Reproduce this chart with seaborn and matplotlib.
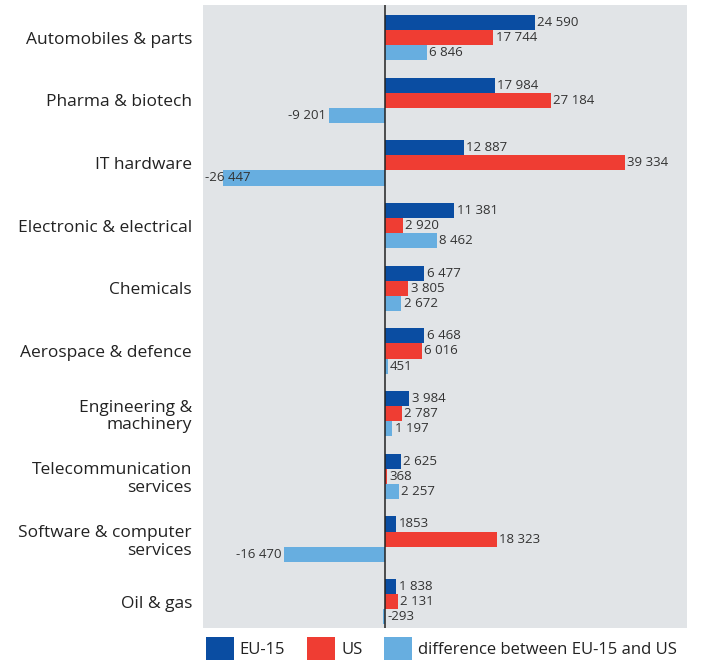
import matplotlib
matplotlib.use("Agg")
import matplotlib.pyplot as plt
from matplotlib.patches import Patch
import seaborn as sns
import pandas as pd

sectors = ["Automobiles & parts", "Pharma & biotech", "IT hardware",
           "Electronic & electrical", "Chemicals", "Aerospace & defence",
           "Engineering &\nmachinery", "Telecommunication\nservices",
           "Software & computer\nservices", "Oil & gas"]
eu15 = [24590, 17984, 12887, 11381, 6477, 6468, 3984, 2625, 1853, 1838]
us = [17744, 27184, 39334, 2920, 3805, 6016, 2787, 368, 18323, 2131]
diff = [6846, -9201, -26447, 8462, 2672, 451, 1197, 2257, -16470, -293]
eu15_lbl = ["24 590", "17 984", "12 887", "11 381", "6 477", "6 468", "3 984", "2 625", "1853", "1 838"]
us_lbl = ["17 744", "27 184", "39 334", "2 920", "3 805", "6 016", "2 787", "368", "18 323", "2 131"]
diff_lbl = ["6 846", "-9 201", "-26 447", "8 462", "2 672", "451", "1 197", "2 257", "-16 470", "-293"]
series = ["EU-15", "US", "difference between EU-15 and US"]
colors = ["#0A4DA2", "#EF3D33", "#67AEE0"]

df = pd.DataFrame({
    "sector": sectors * 3,
    "value": eu15 + us + diff,
    "series": [series[0]] * 10 + [series[1]] * 10 + [series[2]] * 10,
})
labels = eu15_lbl + us_lbl + diff_lbl

sns.set_style("white")
plt.rcParams["font.family"] = ["Open Sans", "DejaVu Sans"]

fig = plt.figure(figsize=(7.01, 6.66), dpi=100)
ax = fig.add_axes([0.2896, 0.057, 0.6904, 0.9355])

sns.barplot(data=df, y="sector", x="value", hue="series", orient="h",
            palette=colors, width=0.72, saturation=1, legend=False,
            linewidth=0, edgecolor="none", ax=ax)

ax.set_facecolor("#E1E4E7")
xmin, xmax = -29800, 49500
ax.set_xlim(xmin, xmax)
ax.set_ylim(9.42, -0.52)
ax.axvline(0, color="#222222", lw=1.1, zorder=5)
for s in ax.spines.values():
    s.set_visible(False)
ax.set_xticks([])
ax.set_xlabel("")
ax.set_ylabel("")
ax.tick_params(axis="y", length=0, pad=8, labelsize=12.5, labelcolor="#222222")
for t in ax.get_yticklabels():
    t.set_linespacing(1.15)

# value labels, bars matched by colour then by position
order = []
for c in colors:
    rgb = matplotlib.colors.to_rgb(c)
    grp = [p for p in ax.patches
           if abs(p.get_facecolor()[0] - rgb[0]) < 0.01 and abs(p.get_facecolor()[2] - rgb[2]) < 0.01]
    order += sorted(grp, key=lambda p: p.get_y())
for p, txt, v in zip(order, labels, df["value"]):
    yc = p.get_y() + p.get_height() / 2
    if v >= 0 or v > -1000:
        ax.text(max(v, 0) + 400, yc, txt, ha="left", va="center", fontsize=9.5, color="#333333", zorder=6)
    elif v - 3800 < xmin:
        ax.text(xmin + 300, yc, txt, ha="left", va="center", fontsize=9.5, color="#333333", zorder=6)
    else:
        ax.text(v - 400, yc, txt, ha="right", va="center", fontsize=9.5, color="#333333", zorder=6)

handles = [Patch(facecolor=c, edgecolor="none") for c in colors]
fig.legend(handles, series, loc="lower left", bbox_to_anchor=(0.272, -0.014), ncol=3,
           frameon=False, fontsize=12, handlelength=1.7, handleheight=1.8,
           handletextpad=0.35, columnspacing=1.3, labelcolor="#222222")

fig.savefig("out.png", dpi=100)
